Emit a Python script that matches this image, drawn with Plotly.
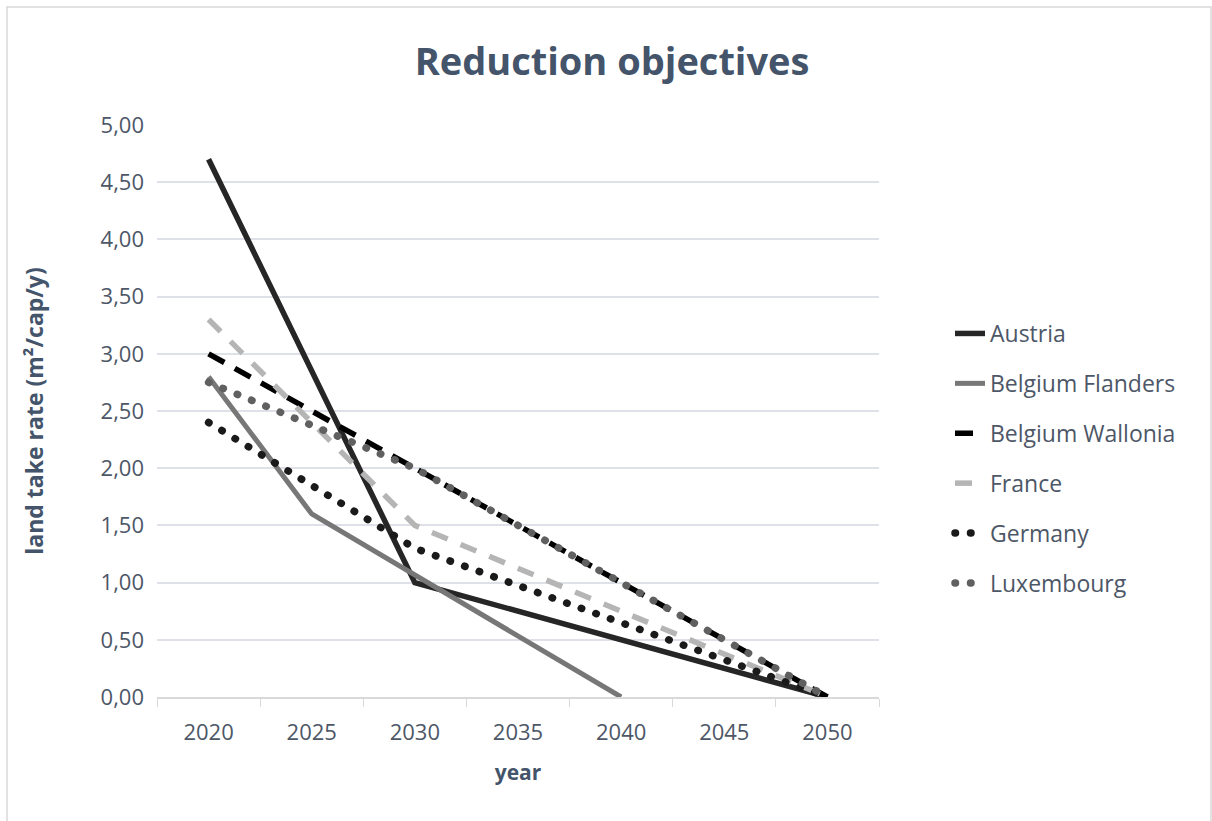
import plotly.graph_objects as go

years = ["2020", "2025", "2030", "2035", "2040", "2045", "2050"]
austria = [4.7, None, 1.0, None, None, None, 0.0]
flanders = [2.8, 1.6, None, None, 0.0, None, None]
wallonia = [3.0, 2.5, 2.0, None, 1.0, None, 0.0]
france = [3.3, None, 1.5, None, None, None, 0.0]
germany = [2.4, None, 1.3, None, None, None, 0.0]
luxembourg = [2.75, None, 2.0, None, None, None, 0.0]

series = [
    ("Austria", austria, "#262626", 5.5, "solid"),
    ("Belgium Flanders", flanders, "#777777", 5, "solid"),
    ("Belgium Wallonia", wallonia, "#000000", 5.5, "18px,12px"),
    ("France", france, "#b5b5b5", 5.5, "17px,14px"),
    ("Germany", germany, "#1a1a1a", 7.5, "0.5px,15px"),
    ("Luxembourg", luxembourg, "#606060", 7.5, "0.5px,15px"),
]

TEXT = "#44546A"
TICK = "#4d5767"
FONT = "Open Sans"

fig = go.Figure()
for name, vals, col, w, dash in series:
    fig.add_trace(go.Scatter(
        x=years, y=vals, name=name, mode="lines", connectgaps=True,
        line=dict(color=col, width=w, dash=dash),
        legendgroup=name,
    ))

fig.update_layout(
    width=1212, height=821,
    margin=dict(l=157, r=333, t=125, b=124),
    paper_bgcolor="white", plot_bgcolor="white",
    separators=",.",
    font=dict(family=FONT, color=TICK),
    title=dict(text="<b>Reduction objectives</b>", x=0.505, xanchor="center",
               y=1 - 62 / 821, yanchor="middle",
               font=dict(family=FONT, size=38, color=TEXT)),
    xaxis=dict(
        type="category", categoryorder="array", categoryarray=years,
        range=[-0.5, 6.5], tickson="boundaries", ticks="outside", ticklen=8,
        tickcolor="#d9d9d9", showline=True, linecolor="#d9d9d9", linewidth=1.5,
        showgrid=False, tickfont=dict(size=22, color=TICK), ticklabelstandoff=15,
        title=dict(text="<b>year</b>", font=dict(size=21, color=TEXT), standoff=20),
    ),
    yaxis=dict(
        range=[0, 5], dtick=0.5, tick0=0, tickformat=".2f",
        showgrid=True, gridcolor="#dfe1e8", gridwidth=1.5, zeroline=False,
        showline=False, ticks="", tickfont=dict(size=22, color=TICK),
        ticklabelstandoff=12,
        title=dict(text="<b>land take rate (m²/cap/y)</b>",
                   font=dict(size=23, color=TEXT), standoff=50),
    ),
    legend=dict(x=(950 - 157) / 722, xanchor="left", y=(697 - 312) / 572,
                yanchor="top", font=dict(size=23, color=TICK),
                tracegroupgap=17, bgcolor="rgba(0,0,0,0)"),
    shapes=[dict(type="rect", xref="paper", yref="paper",
                 x0=(7 - 157) / 722, x1=(1211 - 157) / 722,
                 y0=(697 - 840) / 572, y1=(697 - 7) / 572,
                 line=dict(color="#d9d9d9", width=1.5), layer="below")],
)

post = """
document.body.style.margin = '0';
var gd = document.getElementById('{plot_id}');
function rc(){
  var tr = gd.querySelectorAll('.scatterlayer .trace');
  [4,5].forEach(function(i){ if(tr[i]) tr[i].querySelectorAll('path.js-line').forEach(function(p){p.style.strokeLinecap='round';}); });
  var lg = gd.querySelectorAll('.legend .traces');
  [4,5].forEach(function(i){ if(lg[i]) lg[i].querySelectorAll('path').forEach(function(p){p.style.strokeLinecap='round';}); });
}
rc();
gd.on('plotly_afterplot', rc);
"""

fig.write_html("out.html", post_script=post, config={"displayModeBar": False})
